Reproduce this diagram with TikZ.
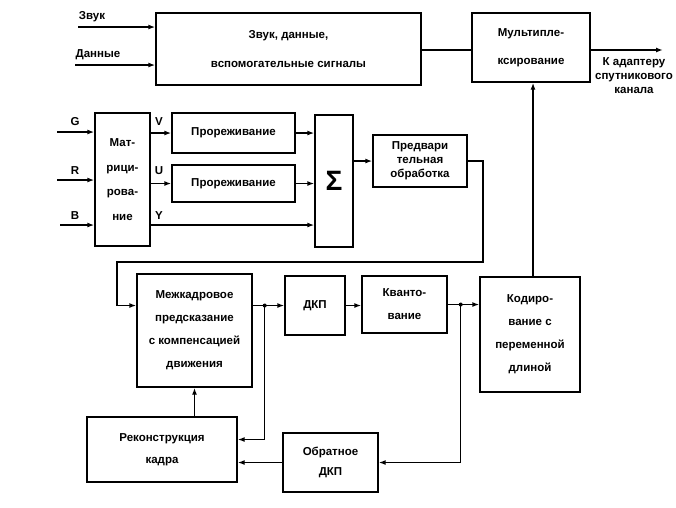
\documentclass[tikz,border=0pt]{standalone}
\usepackage{fontspec}
\setmainfont{Liberation Sans}
\usetikzlibrary{arrows.meta}

\begin{document}
\begin{tikzpicture}[
  x=1pt, y=-1pt,
  line width=1.4pt,
  >={Latex[length=7pt,width=5pt]},
  blok/.style={draw, inner sep=0pt, align=center},
  chu/.style={font=\fontsize{11.5}{#1}\selectfont\bfseries},
  chu/.default=23
]
  \useasboundingbox (0,0) rectangle (676,507);

  % khối phía trên
  \node[blok, chu=29, minimum width=265pt, minimum height=72pt] (amthanh) at (288.5,49) {Звук, данные,\\вспомогательные сигналы};
  \node[blok, chu=28, minimum width=118pt, minimum height=69pt] (mux) at (531,47.5) {Мультипле-\\ксирование};

  % khối ở giữa
  \node[blok, chu=24.5, minimum width=55pt, minimum height=133pt] (matr) at (122.5,179.5) {Мат-\\рици-\\рова-\\ние};
  \node[blok, chu, minimum width=123pt, minimum height=40pt] (pror1) at (233.5,133) {Прореживание};
  \node[blok, chu, minimum width=123pt, minimum height=37pt] (pror2) at (233.5,183.5) {Прореживание};
  \node[blok, minimum width=38pt, minimum height=132pt, font=\fontsize{28}{28}\selectfont\bfseries] (tong) at (334,181) {Σ};
  \node[blok, chu=14, minimum width=94pt, minimum height=52pt] (pred) at (420,161) {Предвари\\тельная\\обработка};

  % khối phía dưới
  \node[blok, chu, minimum width=115pt, minimum height=113pt] (mezh) at (194.5,330.5) {Межкадровое\\предсказание\\с компенсацией\\движения};
  \node[blok, chu, minimum width=60pt, minimum height=59pt] (dkp) at (315,305.5) {ДКП};
  \node[blok, chu, minimum width=85pt, minimum height=57pt] (kvant) at (404.5,304.5) {Кванто-\\вание};
  \node[blok, chu, minimum width=100pt, minimum height=115pt] (kod) at (530,334.5) {Кодиро-\\вание с\\переменной\\длиной};
  \node[blok, chu=20, minimum width=95pt, minimum height=59pt] (obr) at (330.5,462.5) {Обратное\\ДКП};
  \node[blok, chu=22, minimum width=150pt, minimum height=65pt] (rek) at (162,449.5) {Реконструкция\\кадра};

  % nhãn
  \node[chu] (lzvuk) at (92,17) {Звук};
  \node[chu] (ldan) at (98,55) {Данные};
  \node[chu=14, align=center] (ladapt) at (634,76) {К адаптеру\\спутникового\\канала};
  \node[chu] (lg) at (75,122) {G};
  \node[chu] (lr) at (75,171) {R};
  \node[chu] (lb) at (75,216) {B};
  \node[chu] (lv) at (159,122) {V};
  \node[chu] (lu) at (159,171) {U};
  \node[chu] (ly) at (159,216) {Y};

  % các điểm đầu tự do
  \coordinate (vzvuk) at (78,27);
  \coordinate (vdan) at (75,65);
  \coordinate (vout) at (663,50);
  \coordinate (vg) at (57,132);
  \coordinate (vr) at (57,180);
  \coordinate (vb) at (60,225);
  \coordinate (c1) at (483,262);
  \coordinate (c2) at (117,262);

  % đường nối trên
  \draw[->] (vzvuk) -- (vzvuk -| amthanh.west);
  \draw[->] (vdan) -- (vdan -| amthanh.west);
  \draw (amthanh.east |- vout) -- (mux.west |- vout);
  \draw[->] (mux.east |- vout) -- (vout);
  \draw[->] (kod.north -| 533,0) -- (mux.south -| 533,0);

  % đường nối giữa
  \draw[->] (vg) -- (vg -| matr.west);
  \draw[->] (vr) -- (vr -| matr.west);
  \draw[->] (vb) -- (vb -| matr.west);
  \draw[->] (matr.east |- pror1.west) -- (pror1.west);
  \draw[->] (matr.east |- pror2.west) -- (pror2.west);
  \draw[->] (matr.east |- vb) -- (tong.west |- vb);
  \draw[->] (pror1.east) -- (pror1.east -| tong.west);
  \draw[->] (pror2.east) -- (pror2.east -| tong.west);
  \draw[->] (tong.east |- pred.west) -- (pred.west);
  \draw[->] (pred.east) -| (c1) -- (c2) |- (mezh.west |- dkp.west);

  % đường nối dưới
  \path (mezh.east |- dkp.west) ++(12,0) coordinate (j1);
  \path (kvant.east) ++(13,0) coordinate (j2);
  \draw[->] (mezh.east |- dkp.west) -- (dkp.west);
  \draw[->] (dkp.east) -- (dkp.east -| kvant.west);
  \draw[->] (kvant.east) -- (kvant.east -| kod.west);
  \draw[->] (j1) |- ([yshift=10pt]rek.east);
  \draw[->] (j2) |- (obr.east);
  \draw[->] (obr.west) -- (obr.west -| rek.east);
  \draw[->] (rek.north -| mezh.south) -- (mezh.south);
  \fill (j1) circle (2pt);
  \fill (j2) circle (2pt);
\end{tikzpicture}
\end{document}
